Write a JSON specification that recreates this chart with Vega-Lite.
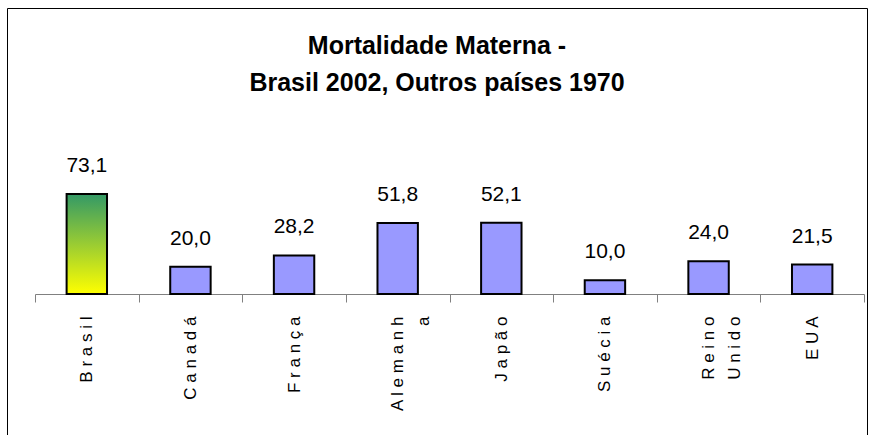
{
  "$schema": "https://vega.github.io/schema/vega-lite/v6.json",
  "width": 860,
  "height": 432,
  "autosize": "none",
  "padding": {"left": 7, "top": 8, "right": 2, "bottom": 0},
  "background": "white",
  "config": {
    "view": {"stroke": "#000000", "strokeWidth": 1},
    "locale": {"number": {"decimal": ",", "thousands": ".", "grouping": [3], "currency": ["R$", ""]}}
  },
  "title": {
    "text": ["Mortalidade Materna -", "Brasil 2002, Outros países 1970"],
    "font": "Liberation Sans",
    "fontSize": 25,
    "fontWeight": "bold",
    "color": "#000000",
    "lineHeight": 37,
    "anchor": "middle",
    "baseline": "alphabetic",
    "offset": -108
  },
  "data": {
    "values": [
      {"pais": "Brasil", "valor": 73.1},
      {"pais": "Canadá", "valor": 20.0},
      {"pais": "França", "valor": 28.2},
      {"pais": "Alemanha", "valor": 51.8},
      {"pais": "Japão", "valor": 52.1},
      {"pais": "Suécia", "valor": 10.0},
      {"pais": "Reino Unido", "valor": 24.0},
      {"pais": "EUA", "valor": 21.5}
    ]
  },
  "encoding": {
    "x": {
      "field": "pais",
      "type": "nominal",
      "sort": null,
      "scale": {
        "domain": ["Brasil", "Canadá", "França", "Alemanha", "Japão", "Suécia", "Reino Unido", "EUA"],
        "range": [28, 857],
        "paddingInner": 0,
        "paddingOuter": 0
      },
      "axis": {
        "title": null,
        "orient": "bottom",
        "offset": -146,
        "grid": false,
        "domainColor": "#808080",
        "domainWidth": 1,
        "tickColor": "#808080",
        "tickWidth": 1,
        "tickSize": 8,
        "tickBand": "extent",
        "labelAngle": -90,
        "labelAlign": "right",
        "labelBaseline": "middle",
        "labelFont": "Liberation Sans",
        "labelFontSize": 17,
        "labelColor": "#000000",
        "labelPadding": 14,
        "labelLineHeight": 26,
        "labelOverlap": false,
        "labelBound": false,
        "labelExpr": "datum.label == 'Alemanha' ? ['A l e m a n h', 'a'] : datum.label == 'Reino Unido' ? ['R e i n o', 'U n i d o'] : join(split(datum.label, ''), ' ')"
      }
    },
    "y": {
      "field": "valor",
      "type": "quantitative",
      "scale": {"domain": [0, 209], "range": [286, 0]},
      "axis": null
    }
  },
  "layer": [
    {
      "mark": {"type": "bar", "stroke": "#000000", "strokeWidth": 2, "width": {"band": 0.39}},
      "encoding": {
        "fill": {
          "condition": {
            "test": "datum.pais == 'Brasil'",
            "value": {
              "gradient": "linear",
              "x1": 0, "y1": 0, "x2": 0, "y2": 1,
              "stops": [
                {"offset": 0, "color": "#339966"},
                {"offset": 1, "color": "#FFFF00"}
              ]
            }
          },
          "value": "#9999FF"
        }
      }
    },
    {
      "mark": {
        "type": "text",
        "font": "Liberation Sans",
        "fontSize": 21,
        "baseline": "alphabetic",
        "dy": -22,
        "color": "#000000"
      },
      "encoding": {
        "text": {"field": "valor", "type": "quantitative", "format": ".1f"}
      }
    }
  ]
}
